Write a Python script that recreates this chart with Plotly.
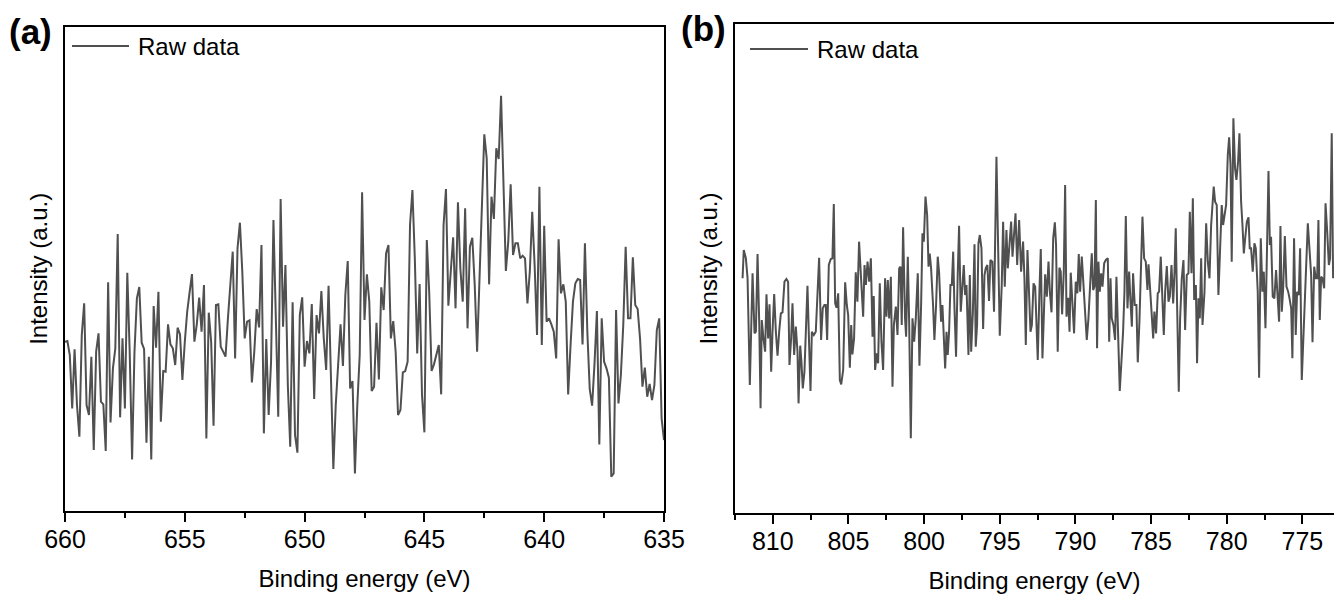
import plotly.graph_objects as go

FONT = "Liberation Sans, Arial, Helvetica, sans-serif"
W, H = 1334, 599
LINE = "#505050"

# ---------------- panel (a) ----------------
energy_a = [
    660.0, 659.9, 659.8, 659.7, 659.6, 659.5, 659.4, 659.3, 659.2, 659.1,
    659.0, 658.9, 658.8, 658.7, 658.6, 658.5, 658.4, 658.3, 658.2, 658.1,
    658.0, 657.9, 657.8, 657.7, 657.6, 657.5, 657.4, 657.3, 657.2, 657.1,
    657.0, 656.9, 656.8, 656.7, 656.6, 656.5, 656.4, 656.3, 656.2, 656.1,
    656.0, 655.9, 655.8, 655.7, 655.6, 655.5, 655.4, 655.3, 655.2, 655.1,
    655.0, 654.9, 654.8, 654.7, 654.6, 654.5, 654.4, 654.3, 654.2, 654.1,
    654.0, 653.9, 653.8, 653.7, 653.6, 653.5, 653.4, 653.3, 653.2, 653.1,
    653.0, 652.9, 652.8, 652.7, 652.6, 652.5, 652.4, 652.3, 652.2, 652.1,
    652.0, 651.9, 651.8, 651.7, 651.6, 651.5, 651.4, 651.3, 651.2, 651.1,
    651.0, 650.9, 650.8, 650.7, 650.6, 650.5, 650.4, 650.3, 650.2, 650.1,
    650.0, 649.9, 649.8, 649.7, 649.6, 649.5, 649.4, 649.3, 649.2, 649.1,
    649.0, 648.9, 648.8, 648.7, 648.6, 648.5, 648.4, 648.3, 648.2, 648.1,
    648.0, 647.9, 647.8, 647.7, 647.6, 647.5, 647.4, 647.3, 647.2, 647.1,
    647.0, 646.9, 646.8, 646.7, 646.6, 646.5, 646.4, 646.3, 646.2, 646.1,
    646.0, 645.9, 645.8, 645.7, 645.6, 645.5, 645.4, 645.3, 645.2, 645.1,
    645.0, 644.9, 644.8, 644.7, 644.6, 644.5, 644.4, 644.3, 644.2, 644.1,
    644.0, 643.9, 643.8, 643.7, 643.6, 643.5, 643.4, 643.3, 643.2, 643.1,
    643.0, 642.9, 642.8, 642.7, 642.6, 642.5, 642.4, 642.3, 642.2, 642.1,
    642.0, 641.9, 641.8, 641.7, 641.6, 641.5, 641.4, 641.3, 641.2, 641.1,
    641.0, 640.9, 640.8, 640.7, 640.6, 640.5, 640.4, 640.3, 640.2, 640.1,
    640.0, 639.9, 639.8, 639.7, 639.6, 639.5, 639.4, 639.3, 639.2, 639.1,
    639.0, 638.9, 638.8, 638.7, 638.6, 638.5, 638.4, 638.3, 638.2, 638.1,
    638.0, 637.9, 637.8, 637.7, 637.6, 637.5, 637.4, 637.3, 637.2, 637.1,
    637.0, 636.9, 636.8, 636.7, 636.6, 636.5, 636.4, 636.3, 636.2, 636.1,
    636.0, 635.9, 635.8, 635.7, 635.6, 635.5, 635.4, 635.3, 635.2, 635.1,
    635.0,
]
intensity_a = [
    2230, 2232, 2190, 2030, 2207, 2040, 1945, 2250, 2345, 2040,
    2010, 2185, 1905, 2200, 2255, 2050, 2042, 1902, 2408, 1988,
    2150, 2210, 2553, 2003, 2240, 2030, 2437, 2200, 1877, 2200,
    2360, 2394, 2227, 2208, 1927, 2185, 1877, 2337, 2212, 2380,
    1990, 2142, 2140, 2282, 2222, 2210, 2160, 2272, 2252, 2115,
    2230, 2320, 2378, 2433, 2230, 2282, 2362, 2260, 2400, 1940,
    2317, 2230, 1978, 2340, 2342, 2215, 2200, 2185, 2300, 2412,
    2500, 2180, 2510, 2587, 2440, 2240, 2290, 2294, 2108, 2200,
    2328, 2273, 2520, 1955, 2238, 2010, 2170, 2595, 2300, 2005,
    2658, 2275, 2460, 2100, 1915, 2348, 1950, 1897, 2310, 2363,
    2155, 2232, 2195, 2343, 2058, 2310, 2255, 2382, 2240, 2145,
    2398, 2130, 1848, 2040, 2150, 2282, 2157, 2370, 2472, 2090,
    2112, 1835, 2040, 2190, 2678, 2295, 2432, 2350, 2082, 2095,
    2287, 2117, 2393, 2325, 2495, 2520, 2240, 2292, 2200, 2010,
    2025, 2138, 2142, 2170, 2580, 2685, 2480, 2195, 2403, 2070,
    1958, 2535, 2380, 2142, 2162, 2188, 2220, 2072, 2580, 2688,
    2338, 2440, 2543, 2330, 2648, 2450, 2350, 2630, 2270, 2515,
    2542, 2400, 2200, 2420, 2650, 2852, 2780, 2402, 2665, 2598,
    2810, 2778, 2968, 2670, 2442, 2530, 2702, 2490, 2525, 2525,
    2480, 2488, 2480, 2345, 2440, 2620, 2460, 2250, 2695, 2220,
    2578, 2290, 2300, 2282, 2260, 2180, 2537, 2375, 2402, 2350,
    2072, 2220, 2350, 2405, 2418, 2415, 2222, 2525, 2260, 2088,
    2038, 2165, 2322, 1922, 2300, 2170, 2150, 2122, 1825, 1835,
    2325, 2045, 2130, 2280, 2515, 2300, 2300, 2483, 2340, 2328,
    2240, 2095, 2152, 2065, 2103, 2055, 2100, 2265, 2300, 2000,
    1935,
]

# ---------------- panel (b) ----------------
energy_b = [
    812.00, 811.92, 811.78, 811.67, 811.52, 811.34, 811.21, 811.12, 811.01, 810.90,
    810.81, 810.73, 810.62, 810.51, 810.42, 810.31, 810.22, 810.11, 810.02, 809.91,
    809.80, 809.69, 809.58, 809.47, 809.36, 809.23, 809.10, 808.99, 808.90, 808.79,
    808.70, 808.59, 808.48, 808.37, 808.30, 808.19, 808.11, 808.02, 807.91, 807.82,
    807.71, 807.60, 807.51, 807.42, 807.29, 807.16, 807.05, 806.94, 806.81, 806.70,
    806.59, 806.50, 806.41, 806.30, 806.17, 806.06, 805.97, 805.88, 805.79, 805.68,
    805.57, 805.48, 805.35, 805.22, 805.11, 805.02, 804.91, 804.82, 804.74, 804.63,
    804.52, 804.41, 804.30, 804.19, 804.03, 803.94, 803.85, 803.74, 803.63, 803.52,
    803.41, 803.33, 803.24, 803.13, 803.04, 802.93, 802.82, 802.71, 802.58, 802.49,
    802.40, 802.31, 802.20, 802.09, 802.00, 801.87, 801.76, 801.65, 801.56, 801.48,
    801.39, 801.26, 801.19, 801.08, 800.99, 800.88, 800.77, 800.66, 800.55, 800.42,
    800.31, 800.20, 800.11, 800.02, 799.91, 799.80, 799.71, 799.63, 799.54, 799.41,
    799.32, 799.21, 799.10, 799.01, 798.88, 798.79, 798.70, 798.61, 798.52, 798.44,
    798.35, 798.26, 798.17, 798.08, 798.00, 797.89, 797.78, 797.69, 797.58, 797.47,
    797.38, 797.29, 797.20, 797.07, 796.98, 796.89, 796.78, 796.67, 796.59, 796.50,
    796.41, 796.32, 796.21, 796.10, 796.01, 795.93, 795.82, 795.71, 795.62, 795.49,
    795.38, 795.22, 795.00, 794.87, 794.78, 794.67, 794.56, 794.47, 794.34, 794.25,
    794.16, 794.05, 793.96, 793.85, 793.72, 793.59, 793.46, 793.37, 793.28, 793.17,
    792.97, 792.88, 792.77, 792.66, 792.58, 792.49, 792.38, 792.29, 792.18, 792.07,
    792.00, 791.89, 791.78, 791.69, 791.58, 791.47, 791.36, 791.28, 791.17, 791.06,
    790.97, 790.88, 790.77, 790.68, 790.59, 790.48, 790.39, 790.31, 790.20, 790.09,
    789.98, 789.87, 789.78, 789.69, 789.58, 789.47, 789.36, 789.25, 789.14, 789.03,
    788.92, 788.83, 788.74, 788.65, 788.57, 788.48, 788.39, 788.30, 788.21, 788.10,
    787.99, 787.86, 787.77, 787.68, 787.60, 787.49, 787.38, 787.29, 787.16, 787.07,
    786.96, 786.85, 786.76, 786.67, 786.56, 786.45, 786.36, 786.27, 786.19, 786.08,
    785.97, 785.88, 785.77, 785.66, 785.57, 785.46, 785.35, 785.24, 785.17, 785.06,
    784.95, 784.86, 784.78, 784.67, 784.56, 784.47, 784.36, 784.25, 784.16, 784.07,
    783.96, 783.85, 783.76, 783.65, 783.54, 783.45, 783.37, 783.28, 783.17, 783.08,
    782.97, 782.86, 782.75, 782.64, 782.53, 782.44, 782.33, 782.24, 782.15, 782.04,
    781.96, 781.87, 781.78, 781.69, 781.60, 781.47, 781.36, 781.25, 781.14, 781.03,
    780.94, 780.86, 780.77, 780.66, 780.55, 780.44, 780.33, 780.24, 780.13, 780.04,
    779.93, 779.84, 779.75, 779.67, 779.56, 779.45, 779.36, 779.25, 779.16, 779.05,
    778.96, 778.87, 778.78, 778.67, 778.56, 778.48, 778.39, 778.28, 778.17, 778.08,
    777.95, 777.86, 777.75, 777.64, 777.55, 777.44, 777.35, 777.24, 777.15, 777.07,
    776.96, 776.85, 776.74, 776.65, 776.54, 776.45, 776.36, 776.27, 776.16, 776.05,
    775.94, 775.85, 775.74, 775.66, 775.55, 775.44, 775.35, 775.24, 775.15, 775.04,
    774.95, 774.84, 774.73, 774.64, 774.53, 774.42, 774.33, 774.22, 774.11, 774.02,
    773.94, 773.85, 773.76, 773.67, 773.56, 773.47, 773.36, 773.25, 773.17, 773.06,
    772.97,
]
intensity_b = [
    2480, 2565, 2540, 2480, 2160, 2495, 2315, 2320, 2553, 2350,
    2090, 2355, 2300, 2260, 2432, 2300, 2402, 2200, 2320, 2433,
    2320, 2248, 2320, 2375, 2378, 2470, 2478, 2470, 2220, 2300,
    2405, 2250, 2335, 2260, 2105, 2278, 2230, 2150, 2200, 2300,
    2458, 2280, 2142, 2320, 2310, 2320, 2440, 2542, 2295, 2390,
    2400, 2400, 2295, 2520, 2538, 2540, 2703, 2405, 2392, 2435,
    2175, 2162, 2205, 2468, 2400, 2370, 2212, 2340, 2252, 2300,
    2498, 2410, 2590, 2510, 2365, 2520, 2460, 2530, 2470, 2540,
    2305, 2427, 2205, 2255, 2225, 2465, 2290, 2205, 2480, 2365,
    2475, 2360, 2485, 2155, 2340, 2395, 2310, 2510, 2515, 2340,
    2633, 2360, 2305, 2545, 2350, 2000, 2360, 2290, 2360, 2495,
    2218, 2400, 2615, 2590, 2725, 2670, 2515, 2554, 2510, 2400,
    2295, 2400, 2545, 2497, 2350, 2400, 2300, 2210, 2320, 2250,
    2320, 2460, 2460, 2560, 2400, 2245, 2490, 2638, 2380, 2450,
    2520, 2430, 2460, 2250, 2490, 2260, 2375, 2582, 2275, 2340,
    2585, 2610, 2570, 2328, 2490, 2510, 2520, 2412, 2535, 2530,
    2380, 2845, 2308, 2460, 2650, 2455, 2625, 2510, 2600, 2650,
    2545, 2605, 2675, 2520, 2655, 2500, 2590, 2480, 2280, 2565,
    2320, 2340, 2465, 2455, 2360, 2235, 2440, 2568, 2240, 2400,
    2492, 2425, 2530, 2440, 2378, 2600, 2648, 2580, 2260, 2512,
    2500, 2372, 2500, 2760, 2365, 2422, 2320, 2497, 2380, 2315,
    2470, 2435, 2553, 2440, 2545, 2450, 2380, 2295, 2360, 2475,
    2555, 2445, 2455, 2715, 2270, 2530, 2440, 2495, 2455, 2525,
    2535, 2540, 2290, 2480, 2360, 2340, 2295, 2485, 2300, 2142,
    2230, 2320, 2440, 2667, 2390, 2500, 2410, 2335, 2495, 2400,
    2400, 2228, 2350, 2555, 2665, 2540, 2530, 2445, 2522, 2445,
    2375, 2300, 2380, 2315, 2435, 2440, 2545, 2380, 2310, 2440,
    2517, 2410, 2425, 2520, 2405, 2500, 2630, 2400, 2140, 2360,
    2480, 2535, 2325, 2490, 2495, 2680, 2495, 2720, 2415, 2460,
    2225, 2420, 2360, 2540, 2340, 2440, 2645, 2530, 2480, 2640,
    2715, 2755, 2710, 2700, 2430, 2550, 2700, 2640, 2670, 2700,
    2850, 2903, 2820, 2530, 2960, 2810, 2775, 2830, 2915, 2710,
    2640, 2555, 2600, 2650, 2663, 2570, 2570, 2500, 2585, 2570,
    2440, 2182, 2600, 2440, 2500, 2330, 2540, 2802, 2580, 2605,
    2425, 2420, 2505, 2420, 2350, 2637, 2380, 2450, 2607, 2455,
    2440, 2420, 2390, 2240, 2600, 2310, 2440, 2430, 2570, 2175,
    2300, 2440, 2540, 2645, 2560, 2490, 2288, 2515, 2480, 2480,
    2655, 2355, 2485, 2480, 2450, 2705, 2620, 2520, 2540, 2915,
    2480,
]

x_range_a = [660, 635]
x_range_b = [812.5, 772.91]
y_range_a = [1723, 3174]
y_range_b = [1777, 3242]
x_title = "Binding energy (eV)"
y_title = "Intensity (a.u.)"
legend_text = "Raw data"
panel_labels = ["(a)", "(b)"]


def px(x):
    return x / W


def py(y):
    return 1 - y / H


fig = go.Figure()
fig.add_trace(go.Scatter(x=energy_a, y=intensity_a, mode="lines", name=legend_text,
                         line=dict(color=LINE, width=2), xaxis="x", yaxis="y",
                         showlegend=False))
fig.add_trace(go.Scatter(x=energy_b, y=intensity_b, mode="lines", name=legend_text,
                         line=dict(color=LINE, width=2), xaxis="x2", yaxis="y2",
                         showlegend=False))

tickfont = dict(family=FONT, size=25, color="black")
titlefont = dict(family=FONT, size=24, color="black")


def xaxis_style(domain, rng, anchor):
    return dict(
        domain=domain, range=rng, anchor=anchor, autorange=False,
        showgrid=False, zeroline=False, showline=True, linecolor="black",
        linewidth=2, mirror=True, ticks="outside", ticklen=9, tickwidth=2,
        tickcolor="black", dtick=5, tick0=0, tickfont=tickfont,
        ticklabelstandoff=-4,
        minor=dict(dtick=2.5, tick0=0, ticks="outside", ticklen=5, tickwidth=2,
                   tickcolor="black", showgrid=False),
        title=dict(text=x_title, font=titlefont, standoff=18),
        automargin=False,
    )


def yaxis_style(domain, rng, anchor, mirror):
    return dict(
        domain=domain, range=rng, anchor=anchor, autorange=False,
        showgrid=False, zeroline=False, showline=True, linecolor="black",
        linewidth=2, mirror=mirror, ticks="", showticklabels=False,
        title=dict(text=y_title, font=titlefont, standoff=9),
        automargin=False,
    )


fig.update_layout(
    width=W, height=H,
    margin=dict(l=0, r=0, t=0, b=0),
    paper_bgcolor="white", plot_bgcolor="white",
    font=dict(family=FONT, color="black"),
    showlegend=False,
    xaxis=xaxis_style([px(65), px(664)], x_range_a, "y"),
    yaxis=yaxis_style([py(510.7), py(27)], y_range_a, "x", True),
    xaxis2=xaxis_style([px(735), 1.0], x_range_b, "y2"),
    yaxis2=yaxis_style([py(512.7), py(24.3)], y_range_b, "x2", False),
)

# legend sample lines + text (drawn like the original inset legends)
for (x0, x1, yy, tx) in [(72, 129, 46, 136), (750, 808, 49, 814.5)]:
    fig.add_shape(type="line", xref="paper", yref="paper",
                  x0=px(x0), x1=px(x1), y0=py(yy), y1=py(yy),
                  line=dict(color=LINE, width=2))
    fig.add_annotation(xref="paper", yref="paper", x=px(tx), y=py(yy),
                       xanchor="left", yanchor="middle", showarrow=False,
                       text=legend_text, font=dict(family=FONT, size=24, color="black"))

# panel labels
for (lbl, lx, ly) in [(panel_labels[0], 7, 31), (panel_labels[1], 679, 28)]:
    fig.add_annotation(xref="paper", yref="paper", x=px(lx), y=py(ly),
                       xanchor="left", yanchor="middle", showarrow=False,
                       text="<b>" + lbl + "</b>",
                       font=dict(family=FONT, size=35, color="black"))

fig.write_html("out.html")
